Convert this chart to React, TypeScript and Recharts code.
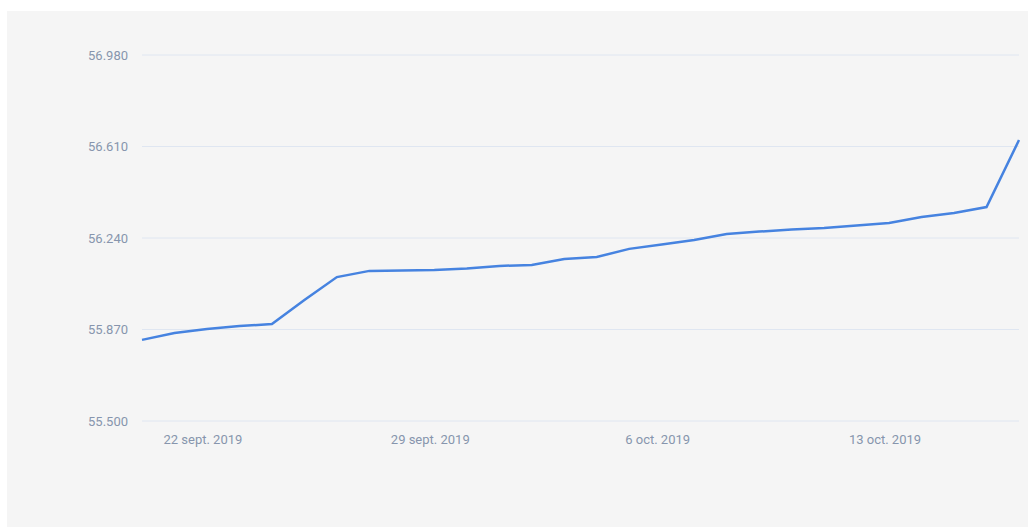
import { CartesianGrid, Line, LineChart, XAxis, YAxis } from "recharts";

// daily readings, 20 sept. -> 17 oct. 2019
const dates = [
  "2019-09-20", "2019-09-21", "2019-09-22", "2019-09-23", "2019-09-24",
  "2019-09-25", "2019-09-26", "2019-09-27", "2019-09-28", "2019-09-29",
  "2019-09-30", "2019-10-01", "2019-10-02", "2019-10-03", "2019-10-04",
  "2019-10-05", "2019-10-06", "2019-10-07", "2019-10-08", "2019-10-09",
  "2019-10-10", "2019-10-11", "2019-10-12", "2019-10-13", "2019-10-14",
  "2019-10-15", "2019-10-16", "2019-10-17",
];

const values = [
  55.828, 55.856, 55.872, 55.884, 55.892, 55.989, 56.082, 56.107,
  56.109, 56.111, 56.117, 56.127, 56.131, 56.155, 56.163, 56.196,
  56.214, 56.232, 56.256, 56.266, 56.274, 56.280, 56.291, 56.301,
  56.325, 56.341, 56.365, 56.636,
];

const yTicks = [55.5, 55.87, 56.24, 56.61, 56.98];
const xTickDates = ["2019-09-22", "2019-09-29", "2019-10-06", "2019-10-13"];
const monthsFr = ["janv.", "févr.", "mars", "avr.", "mai", "juin", "juil.", "août", "sept.", "oct.", "nov.", "déc."];

// readings are stamped a few hours after midnight
const toTime = (d: string, hour = 0) => {
  const [y, m, day] = d.split("-").map(Number);
  return Date.UTC(y, m - 1, day, hour);
};

const data = dates.map((d, i) => ({ t: toTime(d, 3), value: values[i] }));
const xTicks = xTickDates.map((d) => toTime(d));

function fmtDate(t: number) {
  const d = new Date(t);
  return `${d.getUTCDate()} ${monthsFr[d.getUTCMonth()]} ${d.getUTCFullYear()}`;
}

const tickStyle = { fill: "#8795ad", fontSize: 13, fontFamily: "Roboto, sans-serif" };

export default function App() {
  return (
    <div style={{ position: "absolute", left: 0, top: 0, width: 1028, height: 527, background: "#fff" }}>
      <div style={{ position: "absolute", left: 7, top: 11, width: 1021, height: 516, background: "#f5f5f5" }} />
      <div style={{ position: "absolute", left: 0, top: 0 }}>
        <LineChart width={1028} height={527} data={data} margin={{ top: 55, right: 9, bottom: 76, left: 0 }}>
          <CartesianGrid vertical={false} stroke="#dfe6f1" />
          <XAxis
            dataKey="t"
            type="number"
            scale="time"
            domain={["dataMin", "dataMax"]}
            ticks={xTicks}
            tickFormatter={fmtDate}
            axisLine={false}
            tickLine={false}
            tickSize={0}
            tickMargin={14}
            tick={tickStyle}
          />
          <YAxis
            width={142}
            domain={[55.5, 56.98]}
            ticks={yTicks}
            tickFormatter={(v: number) => v.toFixed(3)}
            axisLine={false}
            tickLine={false}
            tickSize={0}
            tickMargin={14}
            tick={tickStyle}
          />
          <Line
            type="linear"
            dataKey="value"
            stroke="#4683e0"
            strokeWidth={2.5}
            dot={false}
            isAnimationActive={false}
          />
        </LineChart>
      </div>
    </div>
  );
}
